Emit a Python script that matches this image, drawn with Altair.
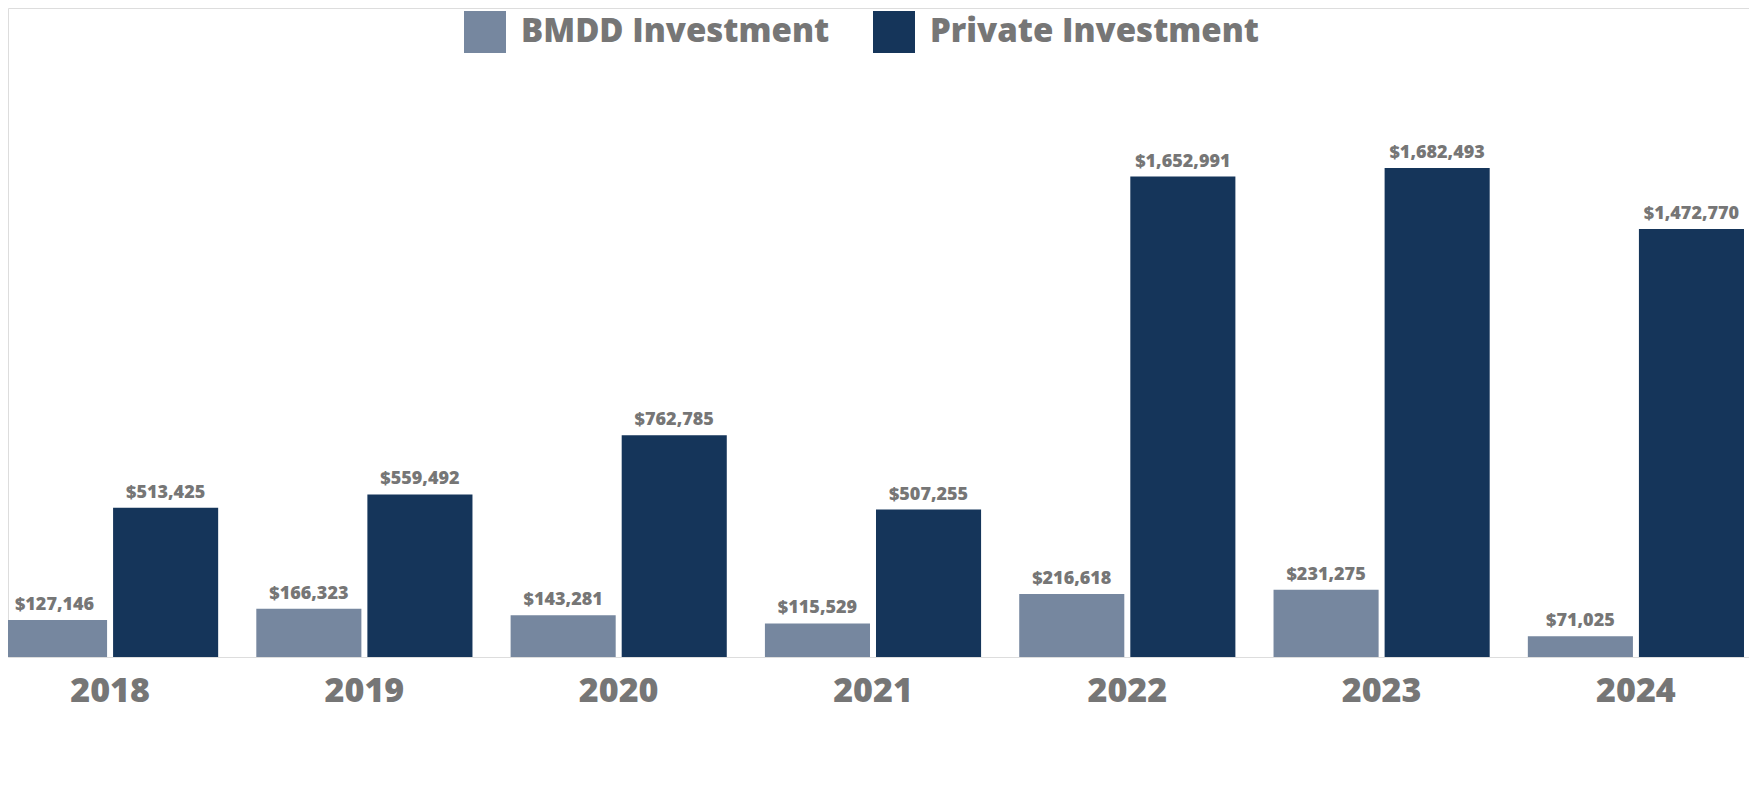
import altair as alt
import pandas as pd

years = ["2018", "2019", "2020", "2021", "2022", "2023", "2024"]
bmdd = [127146, 166323, 143281, 115529, 216618, 231275, 71025]
private = [513425, 559492, 762785, 507255, 1652991, 1682493, 1472770]
series = ["BMDD Investment", "Private Investment"]
colors = ["#76879f", "#15355a"]
gray = "#767676"
font = "Open Sans"

rows = []
for i, yr in enumerate(years):
    rows.append({"year": yr, "series": series[0], "value": bmdd[i]})
    rows.append({"year": yr, "series": series[1], "value": private[i]})
df = pd.DataFrame(rows)

base = alt.Chart(df).encode(
    x=alt.X(
        "year:N",
        sort=years,
        title=None,
        scale=alt.Scale(range=[-6, 1736], paddingInner=0.15, paddingOuter=0),
        axis=alt.Axis(
            labelFontSize=34,
            labelFont=font,
            labelFontWeight=800,
            labelColor=gray,
            labelPadding=17,
            ticks=False,
            domain=False,
            labelAngle=0,
            grid=False,
        ),
    ),
    xOffset=alt.XOffset(
        "series:N", sort=series, scale=alt.Scale(paddingInner=0.054, paddingOuter=0)
    ),
    y=alt.Y("value:Q", scale=alt.Scale(domain=[0, 2233000]), axis=None),
)

bars = base.mark_bar().encode(
    color=alt.Color(
        "series:N",
        sort=series,
        scale=alt.Scale(domain=series, range=colors),
        legend=alt.Legend(
            title=None,
            orient="none",
            legendX=456,
            legendY=3,
            direction="horizontal",
            symbolType="square",
            symbolSize=1764,
            symbolStrokeWidth=0,
            symbolOpacity=1,
            labelFontSize=33,
            labelFont=font,
            labelFontWeight=800,
            labelColor=gray,
            labelOffset=15,
            labelLimit=600,
            columnPadding=43,
            padding=0,
        ),
    )
)

text = base.mark_text(
    font=font, fontSize=18, fontWeight=800, color=gray, baseline="alphabetic", dy=-10
).encode(text=alt.Text("value:Q", format="$,.0f"))

chart = (
    alt.layer(bars, text)
    .properties(
        width=1741,
        height=649,
        padding={"left": 0, "top": 0, "right": 0, "bottom": 100},
        autosize=alt.AutoSizeParams(type="none"),
    )
    .configure_view(strokeWidth=0, stroke="transparent")
    .configure(background="white")
)

chart.save("out.html", embed_options={"renderer": "svg", "actions": False})
